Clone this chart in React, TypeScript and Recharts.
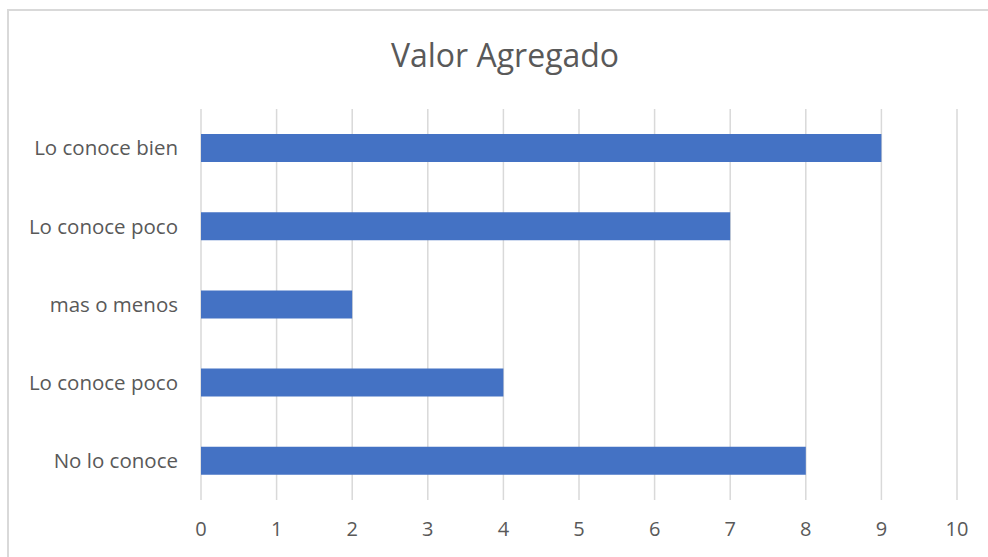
import React from "react";
import { BarChart, Bar, XAxis, YAxis, CartesianGrid } from "recharts";

const categories = ["Lo conoce bien", "Lo conoce poco", "mas o menos", "Lo conoce poco", "No lo conoce"];
const values = [9, 7, 2, 4, 8];
const xTicks = [0, 1, 2, 3, 4, 5, 6, 7, 8, 9, 10];

const data = categories.map((name, i) => ({ id: i, name, value: values[i] }));

const FONT = "'Open Sans', Lato, sans-serif";
const TEXT = "#595959";

const App: React.FC = () => {
  return (
    <div style={{ position: "absolute", left: 0, top: 0, width: 988, height: 557, overflow: "hidden", background: "#fff" }}>
      <div
        style={{
          position: "absolute",
          left: 7,
          top: 9,
          width: 1100,
          height: 700,
          border: "2px solid #d9d9d9",
          boxSizing: "border-box",
        }}
      />
      <div
        style={{
          position: "absolute",
          left: 0,
          top: 35,
          width: 1010,
          textAlign: "center",
          fontFamily: FONT,
          fontSize: 32,
          color: TEXT,
          lineHeight: "40px",
        }}
      >
        Valor Agregado
      </div>
      <div style={{ position: "absolute", left: 0, top: 0 }}>
        <BarChart
          width={988}
          height={557}
          data={data}
          layout="vertical"
          margin={{ top: 109, right: 31, bottom: 0, left: 0 }}
          barSize={28}
        >
          <CartesianGrid horizontal={false} stroke="#d9d9d9" strokeWidth={1.5} />
          <XAxis
            type="number"
            domain={[0, 10]}
            ticks={xTicks}
            interval={0}
            axisLine={false}
            tickLine={false}
            tickSize={0}
            tickMargin={22}
            height={57}
            tick={{ fill: TEXT, fontSize: 20, fontFamily: FONT }}
          />
          <YAxis
            type="category"
            dataKey="id"
            width={201}
            axisLine={false}
            tickLine={false}
            tickSize={0}
            tickMargin={23}
            tickFormatter={(i: number) => categories[i]}
            tick={{ fill: TEXT, fontSize: 20.5, fontFamily: FONT }}
          />
          <Bar dataKey="value" fill="#4472c4" isAnimationActive={false} />
        </BarChart>
      </div>
    </div>
  );
};

export default App;
